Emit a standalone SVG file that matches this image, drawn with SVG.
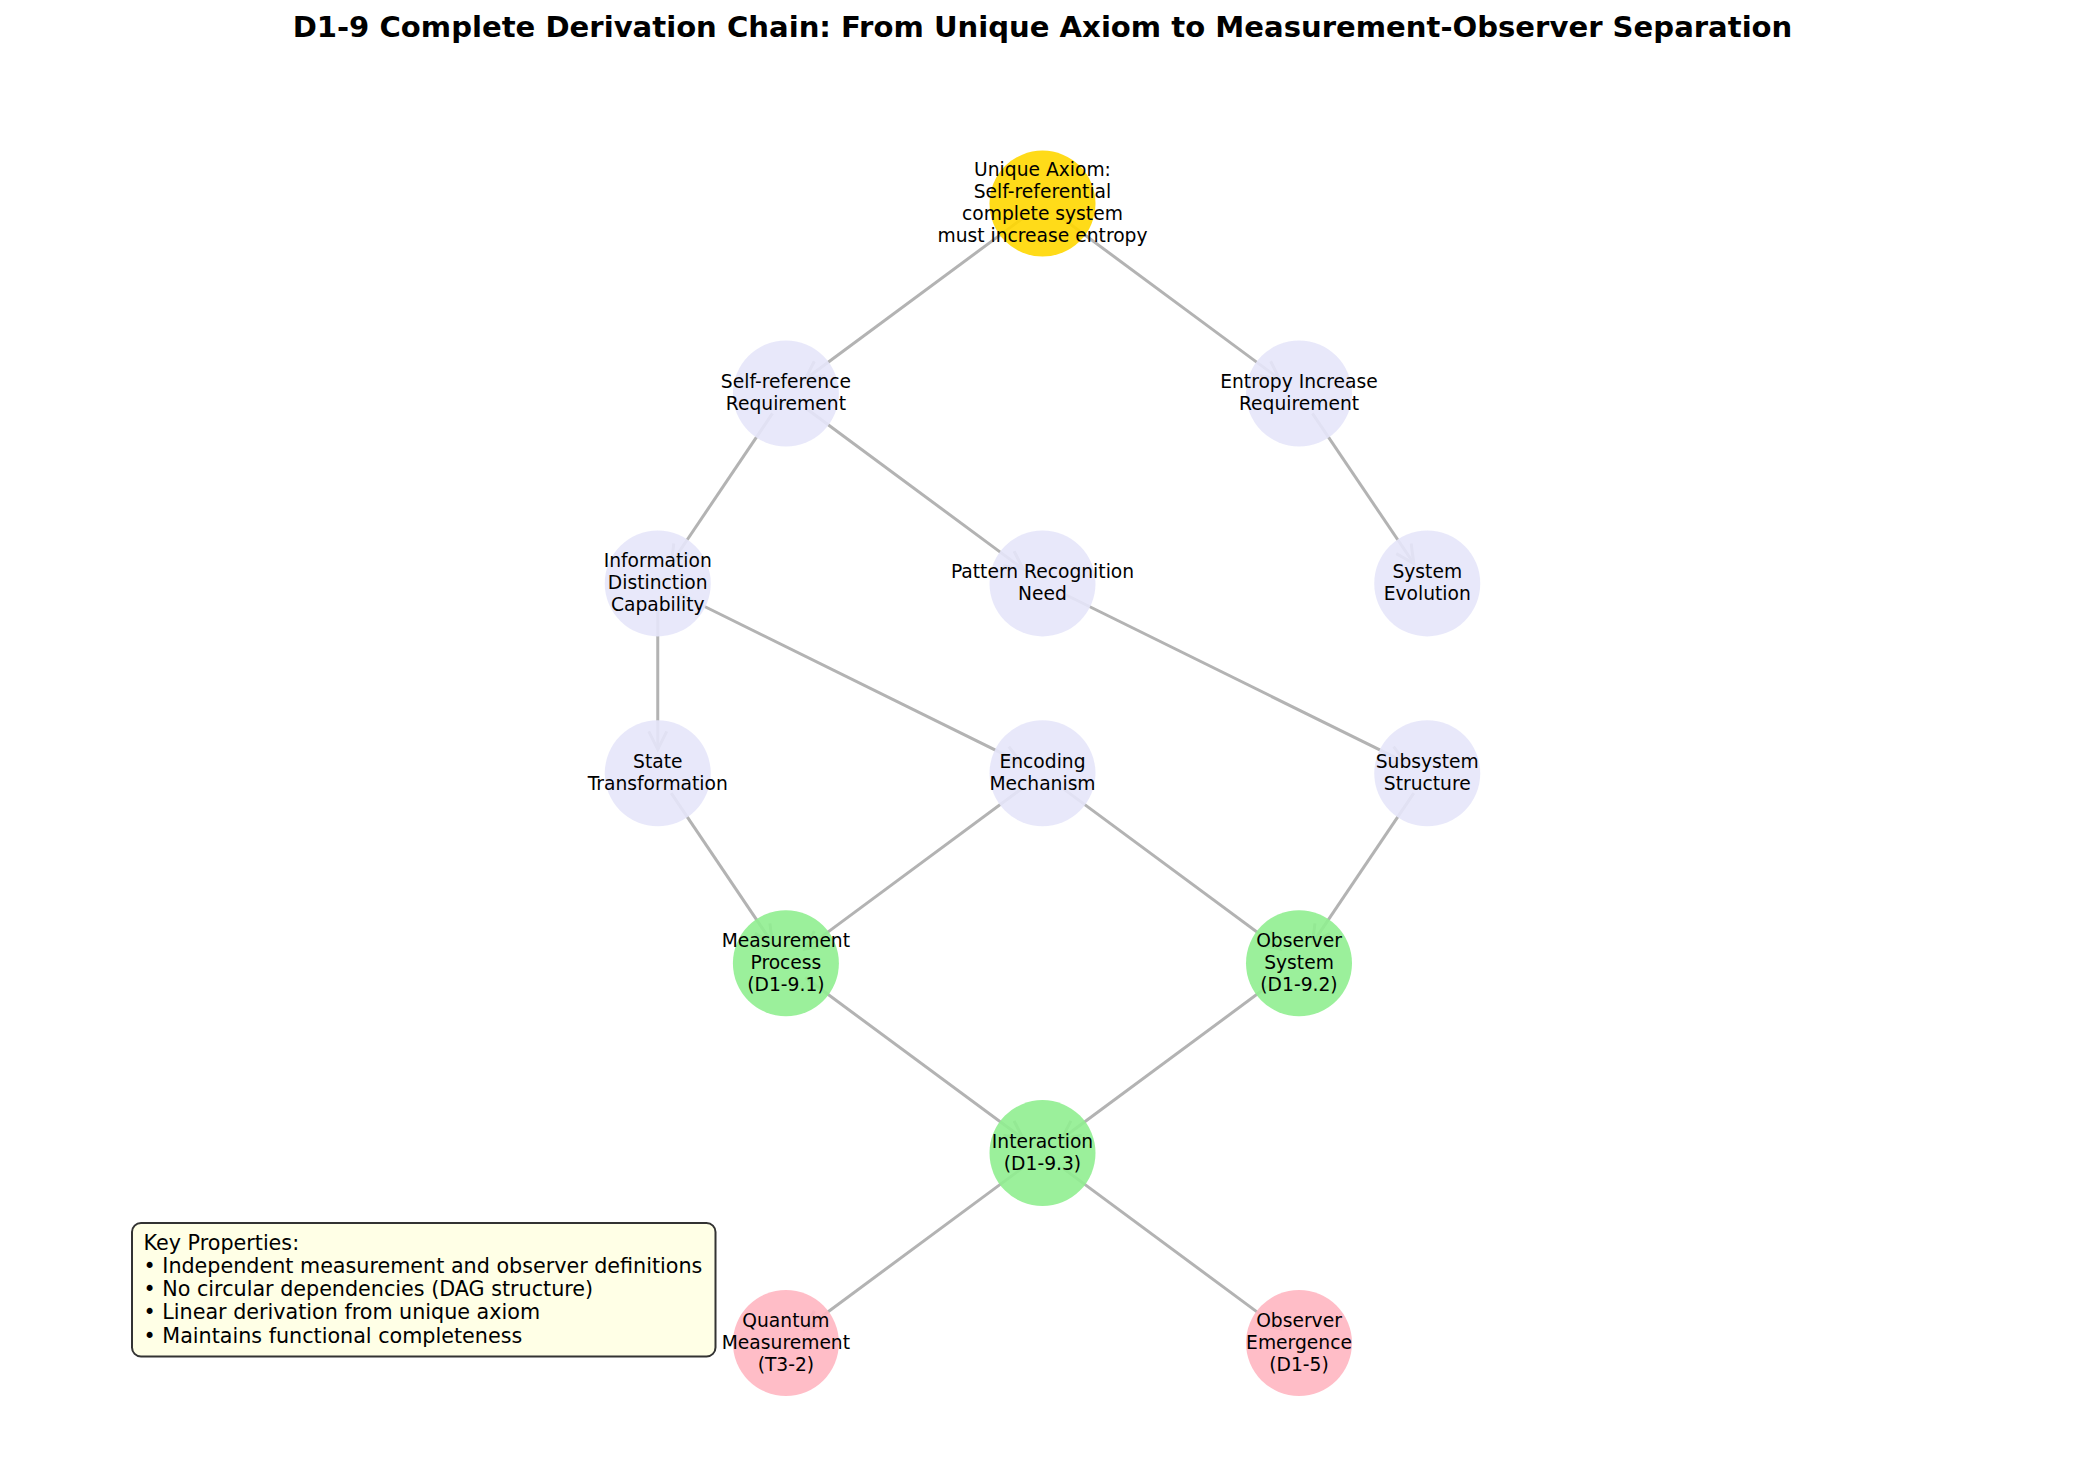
<svg xmlns="http://www.w3.org/2000/svg" width="2085" height="1484" viewBox="0 0 2085 1484">
<defs>
<style>
.edge{stroke:#b3b3b3;stroke-width:3;fill:none;marker-end:url(#ah)}
.nd{fill-opacity:0.9;stroke:none}
.lav{fill:#E6E6FA}
.gold{fill:#FFD700}
.green{fill:#90EE90}
.pink{fill:#FFB6C1}
.lbl{font-family:"DejaVu Sans",sans-serif;font-size:18.7px;fill:#000;text-anchor:middle}
.leg{font-family:"DejaVu Sans",sans-serif;font-size:20.7px;fill:#000}
.title{font-family:"DejaVu Sans",sans-serif;font-size:29.1px;font-weight:bold;fill:#000;text-anchor:middle}
</style>
<marker id="ah" markerUnits="userSpaceOnUse" markerWidth="40" markerHeight="40" viewBox="-20 -20 40 40" refX="0" refY="0" orient="auto">
<path d="M-18,-9 L0,0 L-18,9" fill="none" stroke="#b3b3b3" stroke-width="3" stroke-linejoin="miter"/>
</marker>
</defs>
<rect width="2085" height="1484" fill="#fff"/>
<text class="title" x="1042.5" y="37">D1-9 Complete Derivation Chain: From Unique Axiom to Measurement-Observer Separation</text>
<g id="connectors">
<line class="edge" x1="1023.2" y1="217.9" x2="805.2" y2="379.2"/>
<line class="edge" x1="1061.8" y1="217.9" x2="1279.7" y2="379.2"/>
<line class="edge" x1="772.5" y1="413.4" x2="671.2" y2="563.5"/>
<line class="edge" x1="805.2" y1="407.8" x2="1023.2" y2="569.1"/>
<line class="edge" x1="1312.4" y1="413.4" x2="1413.8" y2="563.5"/>
<line class="edge" x1="657.75" y1="607.4" x2="657.75" y2="749.3"/>
<line class="edge" x1="679.3" y1="594.0" x2="1021.0" y2="762.7"/>
<line class="edge" x1="1064.0" y1="594.0" x2="1405.7" y2="762.7"/>
<line class="edge" x1="671.2" y1="793.2" x2="772.5" y2="943.3"/>
<line class="edge" x1="1023.2" y1="787.6" x2="805.2" y2="948.9"/>
<line class="edge" x1="1061.8" y1="787.6" x2="1279.7" y2="948.9"/>
<line class="edge" x1="1413.8" y1="793.2" x2="1312.4" y2="943.3"/>
<line class="edge" x1="805.2" y1="977.5" x2="1023.2" y2="1138.8"/>
<line class="edge" x1="1279.7" y1="977.5" x2="1061.8" y2="1138.8"/>
<line class="edge" x1="1023.2" y1="1167.4" x2="805.2" y2="1328.7"/>
<line class="edge" x1="1061.8" y1="1167.4" x2="1279.7" y2="1328.7"/>
</g>
<g id="node-axiom">
<circle class="nd gold" cx="1042.5" cy="203.6" r="53"/>
<text class="lbl" x="1042.5"><tspan x="1042.5" y="176.3">Unique Axiom:</tspan><tspan x="1042.5" y="198.3">Self-referential</tspan><tspan x="1042.5" y="220.3">complete system</tspan><tspan x="1042.5" y="242.3">must increase entropy</tspan></text>
</g>
<g id="node-selfref">
<circle class="nd lav" cx="785.9" cy="393.5" r="53"/>
<text class="lbl"><tspan x="785.9" y="388.2">Self-reference</tspan><tspan x="785.9" y="410.2">Requirement</tspan></text>
</g>
<g id="node-entropy">
<circle class="nd lav" cx="1299" cy="393.5" r="53"/>
<text class="lbl"><tspan x="1299" y="388.2">Entropy Increase</tspan><tspan x="1299" y="410.2">Requirement</tspan></text>
</g>
<g id="node-info">
<circle class="nd lav" cx="657.75" cy="583.4" r="53"/>
<text class="lbl"><tspan x="657.75" y="567.1">Information</tspan><tspan x="657.75" y="589.1">Distinction</tspan><tspan x="657.75" y="611.1">Capability</tspan></text>
</g>
<g id="node-pattern">
<circle class="nd lav" cx="1042.5" cy="583.4" r="53"/>
<text class="lbl"><tspan x="1042.5" y="578.1">Pattern Recognition</tspan><tspan x="1042.5" y="600.1">Need</tspan></text>
</g>
<g id="node-evolution">
<circle class="nd lav" cx="1427.25" cy="583.4" r="53"/>
<text class="lbl"><tspan x="1427.25" y="578.1">System</tspan><tspan x="1427.25" y="600.1">Evolution</tspan></text>
</g>
<g id="node-state">
<circle class="nd lav" cx="657.75" cy="773.3" r="53"/>
<text class="lbl"><tspan x="657.75" y="768">State</tspan><tspan x="657.75" y="790">Transformation</tspan></text>
</g>
<g id="node-encoding">
<circle class="nd lav" cx="1042.5" cy="773.3" r="53"/>
<text class="lbl"><tspan x="1042.5" y="768">Encoding</tspan><tspan x="1042.5" y="790">Mechanism</tspan></text>
</g>
<g id="node-subsystem">
<circle class="nd lav" cx="1427.25" cy="773.3" r="53"/>
<text class="lbl"><tspan x="1427.25" y="768">Subsystem</tspan><tspan x="1427.25" y="790">Structure</tspan></text>
</g>
<g id="node-measurement">
<circle class="nd green" cx="785.9" cy="963.2" r="53"/>
<text class="lbl"><tspan x="785.9" y="946.9">Measurement</tspan><tspan x="785.9" y="968.9">Process</tspan><tspan x="785.9" y="990.9">(D1-9.1)</tspan></text>
</g>
<g id="node-observer">
<circle class="nd green" cx="1299" cy="963.2" r="53"/>
<text class="lbl"><tspan x="1299" y="946.9">Observer</tspan><tspan x="1299" y="968.9">System</tspan><tspan x="1299" y="990.9">(D1-9.2)</tspan></text>
</g>
<g id="node-interaction">
<circle class="nd green" cx="1042.5" cy="1153.1" r="53"/>
<text class="lbl"><tspan x="1042.5" y="1147.8">Interaction</tspan><tspan x="1042.5" y="1169.8">(D1-9.3)</tspan></text>
</g>
<g id="node-quantum">
<circle class="nd pink" cx="785.9" cy="1343" r="53"/>
<text class="lbl"><tspan x="785.9" y="1326.7">Quantum</tspan><tspan x="785.9" y="1348.7">Measurement</tspan><tspan x="785.9" y="1370.7">(T3-2)</tspan></text>
</g>
<g id="node-emergence">
<circle class="nd pink" cx="1299" cy="1343" r="53"/>
<text class="lbl"><tspan x="1299" y="1326.7">Observer</tspan><tspan x="1299" y="1348.7">Emergence</tspan><tspan x="1299" y="1370.7">(D1-5)</tspan></text>
</g>
<g id="legend">
<rect x="132" y="1223" width="583.5" height="133.5" rx="9" ry="9" fill="#FFFFE0" fill-opacity="0.8" stroke="#333" stroke-width="2"/>
<text class="leg"><tspan x="143.5" y="1249.7">Key Properties:</tspan><tspan x="143.5" y="1272.9">• Independent measurement and observer definitions</tspan><tspan x="143.5" y="1296.1">• No circular dependencies (DAG structure)</tspan><tspan x="143.5" y="1319.3">• Linear derivation from unique axiom</tspan><tspan x="143.5" y="1342.5">• Maintains functional completeness</tspan></text>
</g>
</svg>
